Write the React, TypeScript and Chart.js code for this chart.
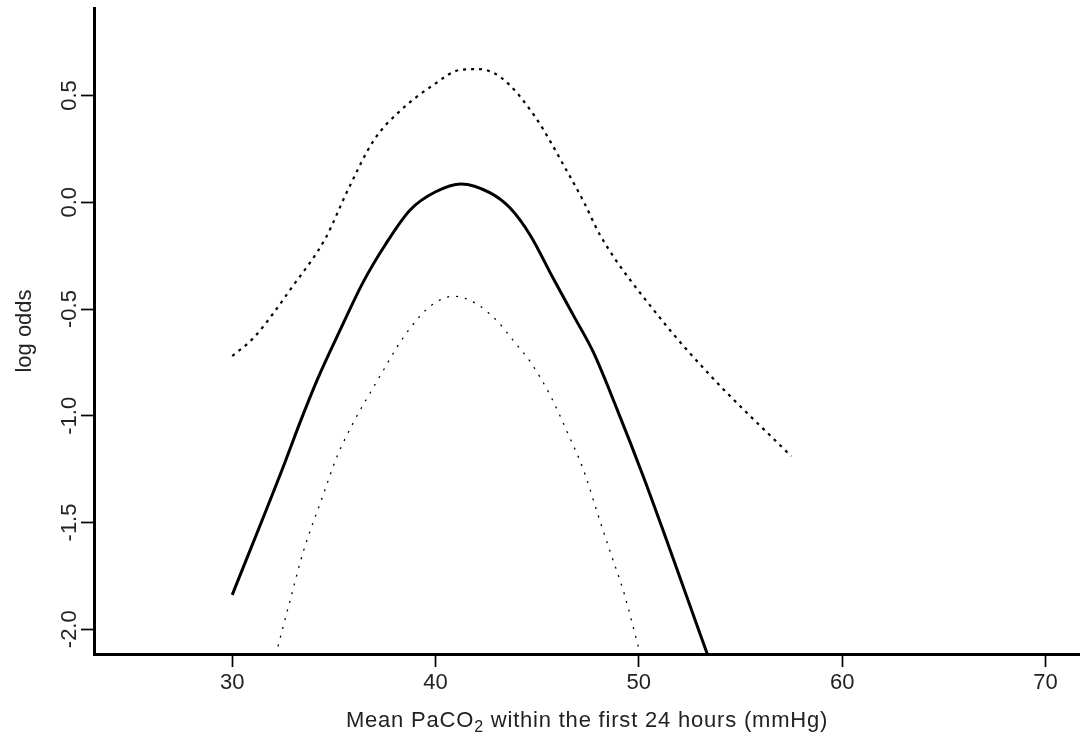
import React, { useEffect, useRef } from "react";
import { Chart, registerables } from "chart.js";

Chart.register(...registerables);

// Fitted log odds (solid)
const fitX = [30.0, 32.51, 33.34, 34.18, 35.31, 36.44, 37.52, 38.75, 39.98, 41.26, 42.69, 43.67, 44.65, 45.78, 46.87, 47.75, 48.93, 50.21, 51.15, 52.03, 53.4];
const fitY = [-1.839, -1.239, -1.03, -0.832, -0.598, -0.374, -0.2, -0.036, 0.048, 0.086, 0.044, -0.027, -0.153, -0.355, -0.545, -0.7, -0.97, -1.282, -1.526, -1.76, -2.125];

// Upper confidence band (dashed)
const upperX = [30, 31.05, 33.0, 34.58, 35.65, 36.96, 38.28, 39.9, 41.2, 42.1, 43.2, 44.83, 46.5, 47.3, 48.13, 50.9, 53.55, 57.5];
const upperY = [-0.72, -0.635, -0.39, -0.17, 0.05, 0.29, 0.43, 0.55, 0.62, 0.624, 0.586, 0.41, 0.14, 0.0, -0.16, -0.525, -0.815, -1.19];

// Lower confidence band (dotted)
const lowerX = [32.25, 32.86, 33.5, 34.42, 35.16, 35.97, 36.88, 37.54, 38.03, 38.77, 39.75, 40.9, 42.05, 43.04, 43.84, 44.68, 45.67, 46.4, 47.3, 47.96, 48.6, 49.27, 50.0];
const lowerY = [-2.08, -1.86, -1.635, -1.385, -1.19, -1.03, -0.877, -0.77, -0.69, -0.587, -0.486, -0.44, -0.478, -0.557, -0.65, -0.75, -0.91, -1.06, -1.26, -1.455, -1.64, -1.83, -2.09];

const xTitleMain = "Mean PaCO";
const xTitleSub = "2";
const xTitleRest = " within the first 24 hours (mmHg)";
const yTitle = "log odds";

const FONT = "'Liberation Sans', Arial, sans-serif";
const TEXT = "#222";

const toPts = (xs: number[], ys: number[]) => xs.map((x, i) => ({ x, y: ys[i] }));

const xTitlePlugin = {
  id: "xTitleSub",
  afterDraw(chart: any) {
    const { ctx, chartArea } = chart;
    ctx.save();
    ctx.fillStyle = TEXT;
    ctx.textBaseline = "alphabetic";
    try {
      (ctx as any).letterSpacing = "0.8px";
    } catch (e) {}
    const big = `22px ${FONT}`;
    const small = `16px ${FONT}`;
    ctx.font = big;
    const w1 = ctx.measureText(xTitleMain).width;
    const w3 = ctx.measureText(xTitleRest).width;
    ctx.font = small;
    const w2 = ctx.measureText(xTitleSub).width;
    const total = w1 + w2 + w3;
    const cx = (chartArea.left + chartArea.right) / 2;
    let x = cx - total / 2;
    const base = 727;
    ctx.textAlign = "left";
    ctx.font = big;
    ctx.fillText(xTitleMain, x, base);
    x += w1;
    ctx.font = small;
    ctx.fillText(xTitleSub, x, base + 5);
    x += w2;
    ctx.font = big;
    ctx.fillText(xTitleRest, x, base);
    ctx.restore();
  },
};

export default function App() {
  const ref = useRef<HTMLCanvasElement>(null);
  useEffect(() => {
    if (!ref.current) return;
    Chart.defaults.font.family = FONT;
    const chart = new Chart(ref.current, {
      type: "line",
      data: {
        datasets: [
          {
            data: toPts(upperX, upperY),
            borderColor: "#000",
            borderWidth: 2.2,
            borderDash: [3, 5],
            pointRadius: 0,
            cubicInterpolationMode: "monotone",
            fill: false,
          },
          {
            data: toPts(fitX, fitY),
            borderColor: "#000",
            borderWidth: 3,
            pointRadius: 0,
            cubicInterpolationMode: "monotone",
            fill: false,
          },
          {
            data: toPts(lowerX, lowerY),
            borderColor: "#000",
            borderWidth: 1.3,
            borderDash: [2, 7],
            pointRadius: 0,
            cubicInterpolationMode: "monotone",
            fill: false,
          },
        ],
      },
      options: {
        animation: false,
        responsive: false,
        layout: { padding: { top: 8, right: 0, left: 0, bottom: 0 } },
        plugins: { legend: { display: false }, tooltip: { enabled: false } },
        scales: {
          x: {
            type: "linear",
            min: 23.2,
            max: 71.7,
            afterFit: (s: any) => {
              s.height = 95;
            },
            grid: {
              drawOnChartArea: false,
              drawTicks: true,
              tickLength: 13,
              tickWidth: 1.7,
              tickColor: "#000",
            },
            border: { display: true, color: "#000", width: 3 },
            ticks: {
              stepSize: 10,
              includeBounds: false,
              color: TEXT,
              font: { size: 22 },
              padding: 3,
              maxRotation: 0,
              minRotation: 0,
            },
          },
          y: {
            type: "linear",
            min: -2.116,
            max: 0.91,
            afterFit: (s: any) => {
              s.width = 94;
            },
            grid: {
              drawOnChartArea: false,
              drawTicks: true,
              tickLength: 13,
              tickWidth: 1.7,
              tickColor: "#000",
            },
            border: { display: true, color: "#000", width: 3 },
            title: {
              display: true,
              text: yTitle,
              color: TEXT,
              font: { size: 22 },
              padding: { top: 12, bottom: 0 },
            },
            ticks: {
              stepSize: 0.5,
              includeBounds: false,
              color: TEXT,
              font: { size: 22 },
              minRotation: 90,
              maxRotation: 90,
              crossAlign: "center",
              padding: -8,
              callback: (v: any) => Number(v).toFixed(1),
            },
          },
        },
      },
      plugins: [xTitlePlugin],
    });
    return () => chart.destroy();
  }, []);
  return (
    <div style={{ position: "absolute", left: 0, top: 0, width: 1080, height: 749, background: "#fff" }}>
      <canvas ref={ref} width={1080} height={749} style={{ display: "block" }} />
    </div>
  );
}
